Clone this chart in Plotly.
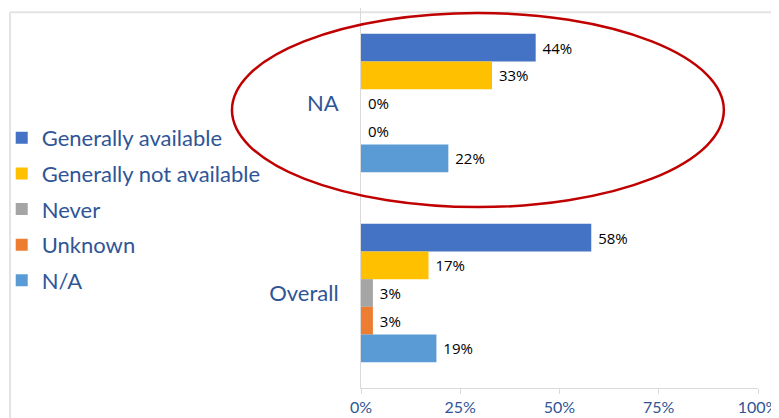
import plotly.graph_objects as go

# categories and series (percent values)
categories = ["NA", "Overall"]
series_names = ["Generally available", "Generally not available", "Never", "Unknown", "N/A"]
generally_available = [44, 58]
generally_not_available = [33, 17]
never = [0, 3]
unknown = [0, 3]
n_a = [22, 19]
tick_vals = [0, 25, 50, 75, 100]
tick_text = ["0%", "25%", "50%", "75%", "100%"]

colors = ["#4472C4", "#FFC000", "#A5A5A5", "#ED7D31", "#5B9BD5"]
all_values = [generally_available, generally_not_available, never, unknown, n_a]

fig = go.Figure()
for i, (name, vals) in enumerate(zip(series_names, all_values)):
    fig.add_trace(go.Bar(
        y=categories,
        x=vals,
        name=name,
        orientation="h",
        marker=dict(color=colors[i], line=dict(width=0)),
        text=[f" {v}%" for v in vals],
        textposition="outside",
        textfont=dict(family="Open Sans", size=15, color="#000000"),
        cliponaxis=False,
        legendgroup=name,
    ))

blue_txt = "#2F5597"
# page body adds an 8px offset, so margins are shifted by 8px
fig.update_layout(
    width=779,
    height=418,
    margin=dict(l=353, r=29, t=0, b=38, autoexpand=False),
    paper_bgcolor="white",
    plot_bgcolor="white",
    barmode="group",
    bargap=0.27,
    bargroupgap=0,
    font=dict(family="Lato", color=blue_txt),
    showlegend=True,
    legend=dict(
        x=-0.905, xanchor="left",
        y=0.713, yanchor="top",
        font=dict(family="Lato", size=22, color=blue_txt),
        tracegroupgap=4,
        bgcolor="rgba(0,0,0,0)",
    ),
    xaxis=dict(
        range=[0, 100],
        tickvals=tick_vals,
        ticktext=tick_text,
        showgrid=False,
        zeroline=False,
        showline=True,
        linecolor="#D9D9D9",
        linewidth=1,
        ticks="outside",
        ticklen=5,
        tickcolor="#D9D9D9",
        tickfont=dict(family="Lato", size=16, color=blue_txt),
        automargin=False,
    ),
    yaxis=dict(
        autorange="reversed",
        showgrid=False,
        zeroline=False,
        showline=True,
        linecolor="#D9D9D9",
        linewidth=1,
        ticks="",
        ticklabelstandoff=17,
        tickfont=dict(family="Lato", size=22, color=blue_txt),
        automargin=False,
    ),
)

# slide frame lines
fig.add_shape(type="line", xref="paper", yref="paper",
              x0=-0.884, x1=1.1, y0=0.989, y1=0.989,
              line=dict(color="#E3E3E3", width=2), layer="below")
fig.add_shape(type="line", xref="paper", yref="paper",
              x0=-0.884, x1=-0.884, y0=0.989, y1=-0.2,
              line=dict(color="#E3E3E3", width=2), layer="below")

# red highlight ellipse around the NA group
fig.add_shape(type="circle", xref="paper", yref="paper",
              x0=-0.325, x1=0.914, y0=0.476, y1=0.987,
              line=dict(color="#C00000", width=2.5))

fig.write_html("out.html")
